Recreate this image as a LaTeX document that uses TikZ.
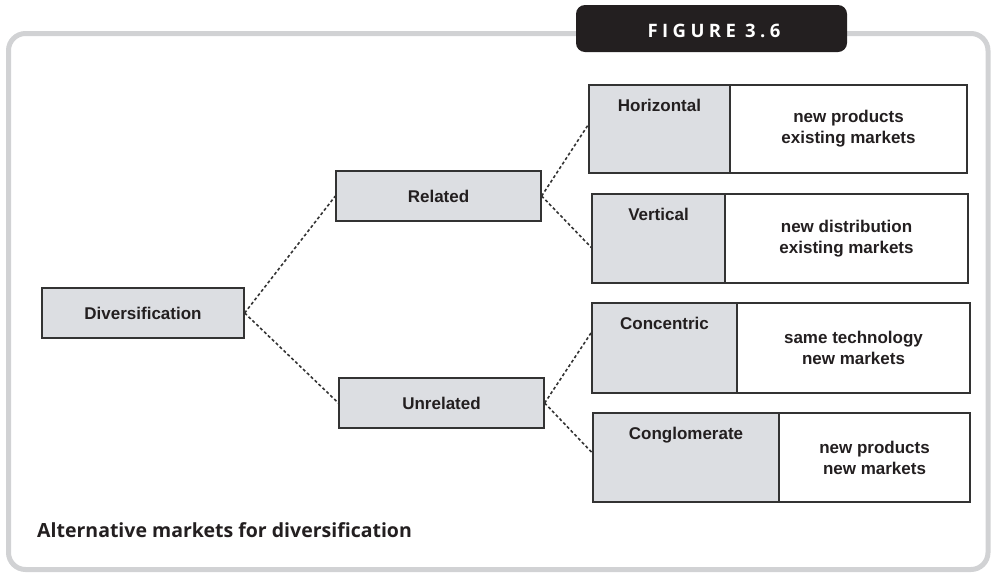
\documentclass[tikz,border=0pt]{standalone}
\usepackage{fontspec}
\setmainfont{Liberation Sans}
\newfontfamily\headfont{Open Sans}
\usetikzlibrary{calc}

\definecolor{framegray}{HTML}{D1D2D4}
\definecolor{boxgray}{HTML}{DCDEE2}
\definecolor{edgegray}{HTML}{333333}
\definecolor{tabblack}{HTML}{231F20}
\definecolor{ink}{HTML}{231F20}

\tikzset{
  labelfont/.style={font=\bfseries\fontsize{17}{21}\selectfont, text=ink},
  graybox/.style={draw=edgegray, line width=1.3pt, fill=boxgray, inner sep=0pt, labelfont},
  descbox/.style={draw=edgegray, line width=1.3pt, fill=white, inner sep=0pt, align=center, labelfont},
  boxtitle/.style={label={[anchor=north, inner sep=0pt, yshift=-15pt, labelfont]north:#1}},
  link/.style={draw=edgegray, line width=1.6pt, dash pattern=on 3pt off 2.4pt},
}

\begin{document}
\begin{tikzpicture}[x=1pt, y=-1pt]
  \useasboundingbox (0,0) rectangle (996,574);

  % outer frame
  \draw[framegray, line width=5pt, rounded corners=17pt] (8.5,33.5) rectangle (988,569.5);

  % heading tab
  \node[fill=tabblack, rounded corners=9pt, minimum width=271pt, minimum height=47pt,
        inner sep=0pt] (tab) at (711.5,28.5) {};
  \node[text=white, inner sep=0pt, anchor=base,
        font=\headfont\bfseries\fontsize{18.5}{20}\selectfont\addfontfeature{LetterSpace=24}]
        (tabtext) at (714,37) {FIGURE 3.6};

  % tree of strategy boxes
  \node[graybox, minimum width=202pt, minimum height=50pt] (div) at (143,313) {Diversification};
  \node[graybox, minimum width=205pt, minimum height=50pt] (rel) at (438.5,196) {Related};
  \node[graybox, minimum width=205pt, minimum height=50pt] (unrel) at (441.5,403) {Unrelated};

  % horizontal
  \node[descbox, minimum width=237pt, minimum height=88pt] (hd) at (848.5,129)
       {new products\\existing markets};
  \node[graybox, minimum width=141pt, minimum height=88pt, boxtitle=Horizontal] (h) at (659.5,129) {};

  % vertical
  \node[descbox, minimum width=243pt, minimum height=89pt] (vd) at (846.5,238.5)
       {new distribution\\existing markets};
  \node[graybox, minimum width=133pt, minimum height=89pt, boxtitle=Vertical] (v) at (658.5,238.5) {};

  % concentric
  \node[descbox, minimum width=233pt, minimum height=90pt] (cd) at (853.5,348)
       {same technology\\new markets};
  \node[graybox, minimum width=145pt, minimum height=90pt, boxtitle=Concentric] (c) at (664.5,348) {};

  % conglomerate
  \node[descbox, minimum width=191pt, minimum height=89pt] (gd) at (874.5,457.5)
       {new products\\new markets};
  \node[graybox, minimum width=186pt, minimum height=89pt, boxtitle=Conglomerate] (g) at (686,457.5) {};

  % dotted connectors
  \draw[link] (div.east) -- (rel.west);
  \draw[link] (div.east) -- (unrel.west);
  \draw[link] (rel.east) -- ($(h.north west)!0.45!(h.south west)$);
  \draw[link] (rel.east) -- ($(v.north west)!0.6!(v.south west)$);
  \draw[link] (unrel.east) -- ($(c.north west)!0.33!(c.south west)$);
  \draw[link] (unrel.east) -- ($(g.north west)!0.45!(g.south west)$);

  % caption
  \node[anchor=base west, inner sep=0pt, text=ink,
        font=\headfont\bfseries\fontsize{19.5}{24}\selectfont]
        (cap) at (37,537) {Alternative markets for diversification};
\end{tikzpicture}
\end{document}
